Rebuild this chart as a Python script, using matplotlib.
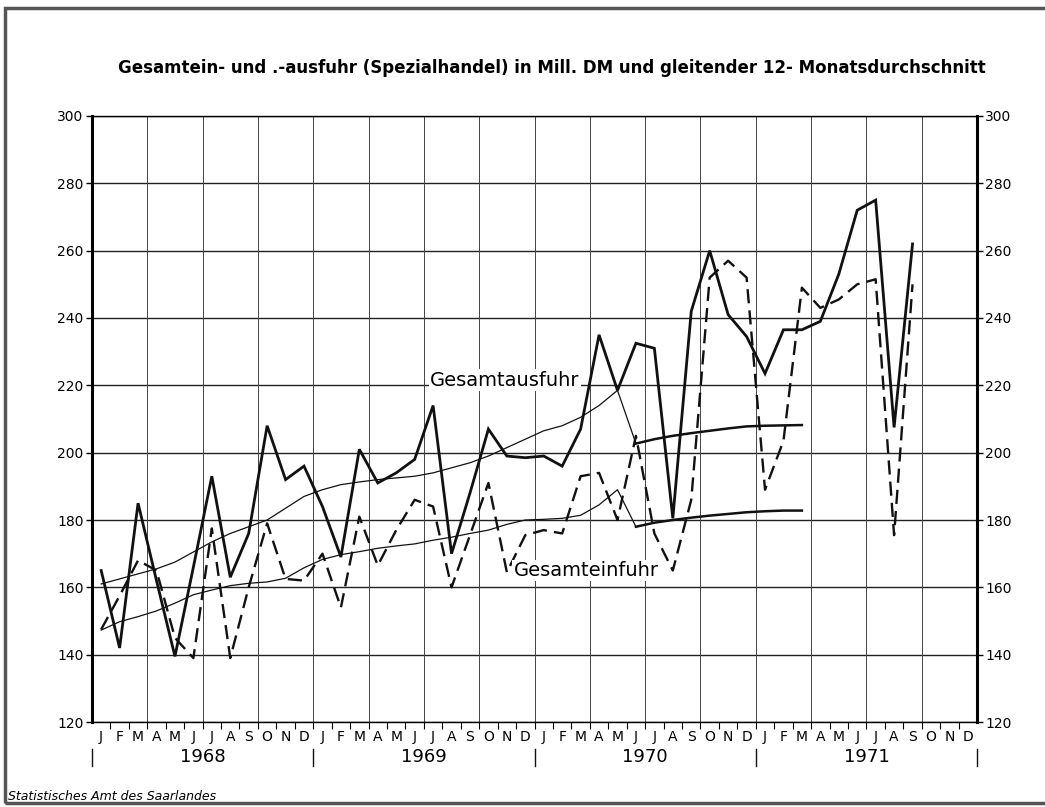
import matplotlib.pyplot as plt
from matplotlib import font_manager
from matplotlib.patches import Rectangle
from matplotlib.transforms import blended_transform_factory

# monthly values Jan 1968 - Sep 1971 (Mill. DM)
months = list("JFMAMJJASOND") * 4
years = ['1968', '1969', '1970', '1971']

ausfuhr = [165, 142, 185, 162, 139.5, 166, 193, 163, 176, 208, 192, 196,
           184, 169, 201, 191, 194, 198, 214, 170, 188, 207, 199, 198.5,
           199, 196, 207, 235, 218.5, 232.5, 231, 180.5, 242, 260, 241, 234.5,
           223.5, 236.5, 236.5, 239, 253, 272, 275, 207.5, 262]
einfuhr = [147.5, 157.5, 168, 165, 145, 139, 177.5, 139, 160, 179, 162.5, 162,
           170, 154, 181, 166.5, 177, 186, 184, 160, 175.5, 191, 164.5, 175.5,
           177, 176, 193, 194, 180, 205, 176, 165, 186, 252, 257, 252,
           189, 203.5, 249, 243, 245.5, 250, 251.5, 175.5, 250]

# gleitender 12-Monatsdurchschnitt (Jan 1968 - Mar 1971)
ausfuhr_avg = [161, 162.5, 164, 165.5, 167.5, 170.5, 173.5, 176, 178, 180, 183.5, 187,
               189, 190.5, 191.3, 192, 192.5, 193, 194, 195.5, 197, 199, 201.5, 204,
               206.5, 208, 210.5, 214, 218.5, 202.7, 204, 205, 205.8, 206.5, 207.2, 207.8,
               208, 208.1, 208.2]
einfuhr_avg = [147.3, 149.8, 151.3, 153, 155.3, 157.8, 159.2, 160.5, 161.2, 161.6, 162.7, 165.8,
               168.3, 169.7, 170.6, 171.6, 172.3, 172.9, 174, 174.9, 176, 177, 178.7, 180,
               180.2, 180.5, 181.4, 184.5, 189, 178, 179.2, 180, 180.7, 181.3, 181.8, 182.3,
               182.6, 182.8, 182.8]
avg_break = 29  # from Jun 1970 the average is drawn heavier

title = "Gesamtein- und .-ausfuhr (Spezialhandel) in Mill. DM und gleitender 12- Monatsdurchschnitt"

# condensed lettering if a narrow face is around
try:
    font_manager.findfont('Liberation Sans Narrow', fallback_to_default=False)
    narrow = 'Liberation Sans Narrow'
except Exception:
    narrow = 'DejaVu Sans'

fig = plt.figure(figsize=(10.45, 8.07), dpi=100)
ax = fig.add_axes([0.088, 0.1053, 0.847, 0.751])

x = list(range(len(ausfuhr)))
xa = list(range(len(ausfuhr_avg)))

ax.plot(x, ausfuhr, color='#111111', lw=2.0, solid_joinstyle='miter', zorder=4)
ax.plot(x, einfuhr, color='#111111', lw=1.7, dashes=(6, 3), zorder=4)

ax.plot(xa[:avg_break + 1], ausfuhr_avg[:avg_break + 1], color='#111111', lw=0.9, zorder=3)
ax.plot(xa[avg_break:], ausfuhr_avg[avg_break:], color='#111111', lw=1.8, zorder=3)
ax.plot(xa[:avg_break + 1], einfuhr_avg[:avg_break + 1], color='#111111', lw=0.9, zorder=3)
ax.plot(xa[avg_break:], einfuhr_avg[avg_break:], color='#111111', lw=1.8, zorder=3)

ax.set_xlim(-0.5, 47.5)
ax.set_ylim(120, 300)

# grid: horizontal every 20, vertical every quarter
for v in range(120, 301, 20):
    ax.axhline(v, color='#222222', lw=1.0, zorder=1)
for q in range(17):
    ax.axvline(-0.5 + 3 * q, color='#444444', lw=0.7, zorder=1)

for s in ['left', 'right']:
    ax.spines[s].set_linewidth(2.2)
for s in ['top', 'bottom']:
    ax.spines[s].set_linewidth(1.0)

ax.set_yticks(range(120, 301, 20))
ax.tick_params(axis='y', length=4, width=1, labelsize=10, labelright=True, right=True, pad=2)
ax.set_xticks(range(48))
ax.set_xticklabels(months, fontsize=10)
ax.set_xticks([m - 0.5 for m in range(1, 48)], minor=True)
ax.tick_params(axis='x', which='major', length=0, pad=6)
ax.tick_params(axis='x', which='minor', length=5, width=0.8, direction='out')

trans = blended_transform_factory(ax.transData, ax.transAxes)
for k, yr in enumerate(years):
    ax.text(12 * k + 5.5, -0.058, yr, transform=trans, ha='center', va='center', fontsize=13)
for k in range(5):
    ax.plot([12 * k - 0.5, 12 * k - 0.5], [-0.045, -0.072], transform=trans,
            color='#111111', lw=1.0, clip_on=False)

ax.text(21.9, 221.5, "Gesamtausfuhr", fontsize=14, ha='center', va='center', zorder=5,
        bbox=dict(facecolor='white', edgecolor='none', pad=1))
ax.text(26.3, 165, "Gesamteinfuhr", fontsize=14, ha='center', va='center', zorder=5,
        bbox=dict(facecolor='white', edgecolor='none', pad=1))

t = fig.text(552 / 1045, 1 - 68 / 807, title, ha='center', va='center', fontsize=16,
             family=[narrow, 'DejaVu Sans'], weight='semibold')
fig.canvas.draw()
w = t.get_window_extent().width
t.set_fontsize(16 * 872 / w)

fig.text(8 / 1045, 1 - 797 / 807, "Statistisches Amt des Saarlandes", ha='left', va='center',
         fontsize=9, style='italic')

# scanned page frame
fig.patches.append(Rectangle((5 / 1045, 4 / 807), 1.1, 1 - 12 / 807, transform=fig.transFigure,
                             fill=False, edgecolor='#555555', lw=2.5))

fig.savefig('out.png', dpi=100)
